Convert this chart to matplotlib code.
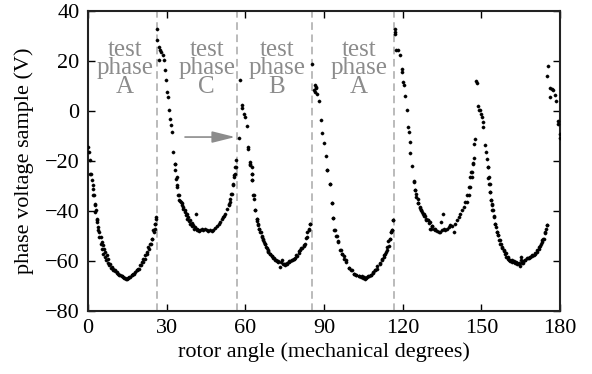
import matplotlib
matplotlib.use("Agg")
import matplotlib.pyplot as plt
import numpy as np

# ---- data (rotor angle in mechanical degrees, phase voltage sample in V) ----
ang_a1 = [0.0,0.5,0.9,1.2,1.8,2.0,2.5,2.8,3.3,3.8,4.3,4.8,5.3,5.9,6.4,6.9,7.5,8.1,8.8,9.4,10.2,10.9,12.0,13.0,13.9,14.5,15.1,15.8,16.8,17.7,18.6,19.3,20.1,20.9,21.6,22.4,23.2,23.9,24.4,25.1,25.4,25.7,26.0,
          0.8,1.4,1.8,2.3,2.7,3.0,3.3,3.6,3.9,4.3,4.8,5.2,5.6,6.1,6.6,7.1,7.8,8.4,9.0,9.7,10.3,10.9,11.6,12.2,12.9,13.5,14.1,14.8,15.4,16.0,16.7,17.3,17.9,18.6,19.2,19.8,20.5,21.1,21.8,22.4,23.0,23.7,24.3,24.9,25.6,25.9]
volt_a1 = [-14.4,-16.4,-19.7,-25.1,-29.7,-33.7,-37.7,-40.4,-43.7,-47.7,-50.4,-53.1,-55.1,-57.1,-58.4,-59.7,-60.8,-61.7,-62.7,-63.5,-64.0,-64.8,-65.5,-66.1,-66.7,-67.1,-66.8,-66.4,-65.7,-65.1,-63.7,-63.1,-61.7,-60.4,-59.1,-57.1,-55.1,-53.1,-51.0,-48.4,-47.1,-45.1,-42.4,
           -25.1,-27.7,-31.1,-33.7,-37.1,-39.7,-43.1,-44.4,-46.4,-48.4,-50.4,-52.4,-53.7,-55.1,-56.4,-57.7,-59.1,-61.1,-62.4,-63.1,-63.7,-64.4,-65.1,-65.7,-66.1,-66.4,-66.7,-67.1,-66.7,-66.4,-65.7,-65.1,-64.4,-63.7,-63.1,-61.7,-60.4,-59.1,-57.7,-56.4,-54.4,-53.1,-51.1,-47.7,-45.1,-43.1]

ang_c = [26.3,26.2,27.0,27.5,27.0,28.0,28.5,29.0,29.3,29.8,30.3,30.5,31.0,31.3,31.8,32.1,32.6,33.1,33.3,33.6,33.8,34.4,34.9,35.4,35.9,36.4,36.9,37.4,37.9,38.4,38.9,39.7,40.5,41.7,42.5,
         33.2,33.8,34.1,34.6,35.1,35.8,36.4,37.0,37.7,38.3,38.9,39.6,40.2,40.8,41.2,41.5,42.1,42.7,43.4,44.0,44.7,45.3,45.9,46.6,47.2,47.8,48.5,49.1,49.8,50.4,51.0,51.4,51.9,52.3,52.9,53.6,54.2,54.8,55.2,55.7,56.1,56.5,
         56.3,56.1,55.8,55.2,54.6,54.0,53.6]
volt_c = [32.9,28.3,25.6,24.5,20.3,23.6,22.3,20.3,16.3,12.3,7.6,5.6,0.3,-3.1,-5.7,-8.4,-16.4,-21.3,-23.7,-27.1,-30.4,-33.7,-35.7,-36.4,-37.7,-39.1,-40.4,-41.7,-43.1,-44.0,-45.1,-46.1,-47.1,-47.5,-48.0,
          -21.1,-26.4,-29.7,-33.7,-36.0,-36.8,-38.4,-39.7,-41.1,-42.4,-43.7,-44.8,-45.7,-46.4,-41.1,-47.1,-47.5,-47.7,-47.3,-47.7,-47.2,-47.7,-48.0,-47.5,-48.1,-47.5,-46.8,-46.1,-45.3,-44.4,-43.1,-42.4,-42.1,-41.1,-39.1,-37.1,-35.1,-33.1,-29.7,-25.7,-22.4,-19.7,
          -22.4,-25.1,-26.4,-29.3,-33.3,-36.4,-37.7]

ang_b = [57.4,58.0,58.6,58.9,59.5,59.9,60.5,61.2,61.2,61.9,61.9,62.5,62.5,63.2,63.7,64.4,64.8,65.3,65.6,66.3,66.9,67.6,68.2,68.8,69.5,70.1,70.9,71.6,72.4,73.3,73.7,74.4,75.2,76.0,76.7,77.7,78.6,79.5,80.3,81.3,82.2,83.1,83.6,84.1,84.7,
         61.8,62.5,62.7,62.5,63.1,63.4,63.7,64.4,64.6,65.0,65.4,65.9,66.3,66.7,67.2,67.6,67.9,68.5,68.8,69.5,70.1,70.7,71.4,72.0,72.6,73.9,74.6,75.2,75.8,76.5,77.1,77.7,78.4,79.0,79.6,80.3,80.9,81.5,82.2,82.8,83.4,84.1,84.7]
volt_b = [-10.7,12.5,2.3,1.4,-1.3,-2.4,-6.1,-14.4,-15.1,-20.4,-21.7,-25.1,-27.5,-33.7,-39.5,-43.1,-45.1,-47.1,-48.4,-50.4,-51.7,-53.1,-54.7,-56.0,-57.1,-58.0,-58.7,-59.5,-60.0,-62.4,-60.4,-61.3,-61.1,-60.8,-60.0,-59.5,-59.1,-57.7,-56.0,-54.7,-53.7,-50.7,-48.4,-47.1,-45.1,
          -21.1,-22.4,-25.1,-27.5,-33.7,-35.1,-39.5,-43.1,-44.0,-45.7,-47.1,-48.4,-50.1,-51.3,-52.4,-53.3,-54.4,-55.5,-56.4,-57.3,-58.1,-58.7,-59.5,-60.0,-60.4,-59.7,-61.3,-61.7,-61.1,-60.5,-60.0,-59.5,-59.2,-58.7,-57.9,-56.8,-55.7,-54.7,-54.1,-53.1,-50.4,-47.7,-45.1]

ang_a2 = [85.4,86.1,86.8,86.4,86.9,86.7,87.4,88.0,88.7,89.3,89.9,90.6,91.2,92.1,92.9,93.4,93.9,94.7,95.4,96.3,96.9,97.6,98.5,99.5,100.5,101.4,102.3,103.3,104.3,105.2,106.1,106.9,107.8,108.7,109.4,110.3,111.2,112.2,112.9,113.5,114.0,114.5,115.0,115.5,115.8,116.3,
          91.3,92.1,93.0,93.4,94.1,94.9,95.5,96.2,96.8,97.5,98.5,99.4,100.3,101.3,102.3,103.2,104.1,104.8,105.7,106.4,107.1,107.9,108.6,109.5,110.2,111.2,112.1,112.7,113.4,114.0,114.6,115.3,115.5,115.9,116.5]
volt_a2 = [19.0,8.3,9.6,10.3,9.3,7.6,7.0,4.0,-3.7,-8.8,-12.7,-18.1,-23.7,-29.3,-36.8,-42.7,-47.5,-50.1,-52.1,-55.5,-57.1,-58.1,-59.5,-62.7,-63.7,-65.1,-65.7,-66.0,-66.1,-66.4,-66.8,-66.0,-65.5,-64.4,-63.5,-62.1,-60.8,-59.1,-57.7,-56.4,-54.4,-52.0,-51.1,-48.4,-47.7,-43.5,
           -23.5,-29.3,-36.8,-42.7,-47.5,-50.1,-52.4,-55.7,-57.1,-59.1,-60.4,-62.7,-63.5,-65.1,-65.7,-66.1,-66.4,-66.7,-67.1,-66.4,-66.1,-65.7,-64.8,-63.7,-63.1,-61.3,-59.7,-58.4,-57.1,-55.7,-54.1,-51.1,-48.4,-47.7,-43.5]

ang_p5 = [116.9,116.9,116.9,117.6,118.2,118.8,119.6,119.6,120.1,120.4,120.9,121.6,122.1,122.4,122.9,122.9,123.4,124.2,124.7,125.2,125.7,126.0,126.5,127.0,127.5,128.0,128.5,129.0,129.5,130.0,130.7,131.3,132.3,
          124.2,124.8,125.2,125.7,126.5,127.0,127.7,128.2,129.0,129.5,130.3,130.5,131.2,131.8,132.4,133.1,133.7,134.3,134.6,135.0,135.4,135.6,136.3,136.9,137.5,138.2,138.8,139.4,140.1,140.7,141.3,142.0,142.6,143.3,143.9,144.5,145.2,145.8,146.1,146.8,
          144.7,145.3,145.7,146.3,146.6,146.8,147.1,147.3,147.5,148.1,148.4]
volt_p5 = [33.0,31.6,30.7,24.5,24.3,22.3,17.0,15.6,11.6,10.3,5.9,0.5,-6.4,-8.4,-12.4,-16.8,-22.1,-28.0,-31.5,-33.3,-35.1,-36.8,-38.4,-39.5,-40.4,-41.3,-42.1,-43.1,-43.7,-44.8,-47.1,-46.1,-47.1,
           -28.4,-31.7,-34.4,-36.8,-38.7,-39.7,-41.1,-42.1,-43.5,-43.7,-44.4,-47.1,-46.1,-47.1,-47.7,-48.0,-48.4,-48.4,-44.4,-47.7,-41.3,-47.1,-47.7,-47.1,-46.4,-45.7,-46.1,-48.4,-45.1,-43.7,-42.4,-41.1,-39.7,-38.4,-36.4,-33.7,-30.4,-26.4,-24.4,-20.8,
           -36.4,-33.7,-30.4,-26.4,-24.4,-21.1,-18.7,-13.3,-11.1,12.0,11.2]

ang_p6 = [148.9,149.1,149.6,149.9,150.4,150.6,150.8,151.4,151.7,152.1,152.4,152.7,152.9,153.4,153.7,154.0,154.2,154.7,155.2,155.7,156.1,156.5,157.0,157.5,158.0,158.7,159.3,160.1,160.8,161.6,162.5,163.1,163.7,164.4,165.0,165.4,165.9,166.7,167.6,168.5,169.5,170.5,171.4,172.0,172.7,173.0,173.6,174.1,174.6,175.1,
          152.4,152.8,153.2,153.4,153.7,154.0,154.5,155.0,155.3,156.0,156.2,156.7,157.3,157.9,158.5,159.1,159.5,160.0,160.6,161.1,161.7,162.3,162.9,163.6,164.2,164.9,165.1,165.5,166.0,166.8,167.4,168.0,168.7,169.3,170.0,170.6,171.2,171.9,172.5,173.1,173.8,174.4,175.0,
          175.2,175.6,176.1,176.1,176.9,177.4,177.9,178.4,179.2,179.4,179.9,179.8]
volt_p6 = [1.9,0.5,0.3,-1.3,-2.4,-4.4,-6.4,-13.7,-16.4,-19.1,-22.4,-26.7,-29.1,-32.4,-35.5,-37.3,-39.5,-42.4,-45.3,-46.4,-48.4,-49.7,-51.7,-53.1,-54.4,-55.7,-56.8,-58.4,-59.5,-59.7,-60.0,-60.4,-60.8,-61.1,-58.4,-60.7,-60.0,-59.5,-58.7,-58.4,-57.7,-56.8,-55.5,-54.4,-53.1,-51.7,-51.1,-48.8,-47.1,-45.5,
           -22.4,-26.4,-29.3,-32.4,-35.5,-37.7,-39.7,-42.1,-45.1,-48.4,-49.7,-51.7,-53.1,-54.7,-56.0,-57.3,-58.4,-59.2,-59.7,-60.0,-60.4,-60.4,-60.8,-61.1,-60.8,-61.9,-59.7,-60.4,-60.8,-59.7,-58.8,-58.7,-58.4,-58.1,-57.7,-57.1,-56.4,-55.1,-54.1,-52.4,-51.1,-48.4,-45.7,
           13.9,17.9,9.3,5.6,9.0,8.5,6.3,4.0,-4.0,-5.3,-9.1,-10.8]

boundaries = [26.4, 57.0, 85.6, 116.7]
labels = ["test\nphase\nA", "test\nphase\nC", "test\nphase\nB", "test\nphase\nA"]
label_x = [14.1, 45.3, 72.0, 103.2]
label_y = 17.1
arrow_from = (37.0, -10.4)
arrow_to = (56.1, -10.4)

xticks = [0, 30, 60, 90, 120, 150, 180]
yticks = [-80, -60, -40, -20, 0, 20, 40]

# ---- drawing ----
plt.rcParams['font.family'] = ['Liberation Serif', 'DejaVu Serif']
plt.rcParams['axes.unicode_minus'] = True

fig = plt.figure(figsize=(5.92, 3.74), dpi=100)
ax = fig.add_axes([0.1486, 0.1684, 0.7974, 0.802])

angles = np.concatenate([ang_a1, ang_c, ang_b, ang_a2, ang_p5, ang_p6])
volts = np.concatenate([volt_a1, volt_c, volt_b, volt_a2, volt_p5, volt_p6])
ax.plot(angles, volts, linestyle='none', marker='o', ms=2.3, mfc='black', mec='black', mew=0.3, zorder=3)

for b in boundaries:
    ax.axvline(b, color='#a8a8a8', lw=1.1, dashes=(5, 3), zorder=1)

for lx, lt in zip(label_x, labels):
    ax.text(lx, label_y, lt, ha='center', va='center', color='#8c8c8c', fontsize=18,
            linespacing=0.78, zorder=2)

ax.annotate('', xy=arrow_to, xytext=arrow_from,
            arrowprops=dict(arrowstyle='-|>,head_length=1.0,head_width=0.25', color='#8c8c8c',
                            lw=1.2, mutation_scale=14, shrinkA=0, shrinkB=0))

ax.set_xlim(0, 180)
ax.set_ylim(-80, 40)
ax.set_xticks(xticks)
ax.set_yticks(yticks)
ax.tick_params(direction='in', length=5, width=1, top=True, right=True, labelsize=16,
               colors='black')
ax.tick_params(axis='x', pad=6)
ax.tick_params(axis='y', pad=6)
for s in ax.spines.values():
    s.set_linewidth(1.5)
    s.set_color('#222222')

ax.set_xlabel('rotor angle (mechanical degrees)', fontsize=16, labelpad=3)
ax.set_ylabel('phase voltage sample (V)', fontsize=16, labelpad=8)

fig.savefig('out.png', dpi=100)
